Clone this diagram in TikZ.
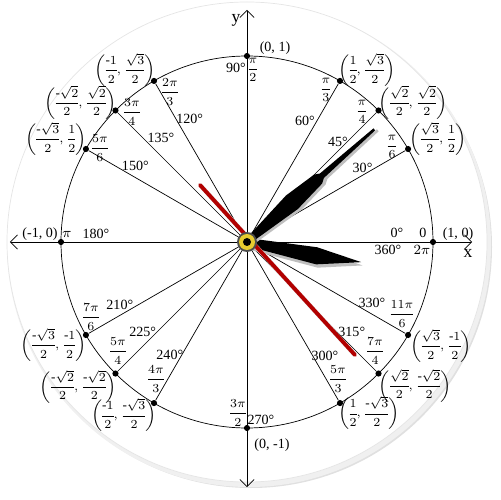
\documentclass[tikz,border=0pt]{standalone}
\usepackage{amsmath}
\usepackage{fontspec}
\setmainfont{Liberation Serif}
\usetikzlibrary{arrows.meta}
\begin{document}
\begin{tikzpicture}[x=0.02cm,y=0.02cm,
  lbl/.style={font=\fontsize{8}{9}\selectfont,inner sep=0pt},
  rad/.style={font=\fontsize{7.5}{8}\selectfont,inner sep=0pt},
  crd/.style={font=\fontsize{7.5}{8}\selectfont,inner sep=0pt},
  dot/.style={circle,fill=black,inner sep=0pt,minimum size=3.5pt},
  ray/.style={line width=0.4pt},
  hand/.style={fill=black}]
\useasboundingbox (-247,-258) rectangle (253,242);
\nulldelimiterspace=0pt
% clock face with shadow
\fill[black!12] (4,-5) circle (241);
\fill[black!6] (2,-3) circle (242);
\fill[white] (0,0) circle (240);
\draw[black!10] (0,0) circle (240);
% axes
\coordinate (O) at (0,0);
\coordinate (xl) at (-237,0); \coordinate (xr) at (225,0);
\coordinate (yt) at (0,232); \coordinate (yb) at (0,-245);
\draw[-{Straight Barb[length=4pt]}] (O) -- (xr);
\draw[-{Straight Barb[length=4pt]}] (O) -- (xl);
\draw[-{Straight Barb[length=4pt]}] (O) -- (yt);
\draw[-{Straight Barb[length=4pt]}] (O) -- (yb);
\node[lbl,font=\fontsize{10}{11}\selectfont] (xlab) at (221,-11) {x};
\node[lbl,font=\fontsize{10}{11}\selectfont] (ylab) at (-11,222) {y};
% unit circle
\draw (O) circle (186);
% points and rays
\foreach \a/\n in {0/p0,30/p30,45/p45,60/p60,90/p90,120/p120,135/p135,150/p150,180/p180,210/p210,225/p225,240/p240,270/p270,300/p300,315/p315,330/p330}{
  \node[dot] (\n) at (\a:186) {};
}
\foreach \n in {p30,p45,p60,p120,p135,p150,p210,p225,p240,p300,p315,p330}{
  \draw[ray] (O) -- (\n);
}
% degree labels
\node[lbl] at (32.5:137) {30°};
\node[lbl] at (47.7:135) {45°};
\node[lbl] at (64.4:134) {60°};
\node[lbl] at (114.9:136) {120°};
\node[lbl] at (129.6:135) {135°};
\node[lbl] at (145.8:135) {150°};
\node[lbl] at (206.4:142) {210°};
\node[lbl] at (220.9:138) {225°};
\node[lbl] at (235.7:137) {240°};
\node[lbl] at (304.4:138) {300°};
\node[lbl] at (319.4:138) {315°};
\node[lbl] at (334:139) {330°};
\node[lbl] at (-11,174) {90°};
\node[lbl] at (14,-178) {270°};
\node[lbl] at (150,9) {0°};
\node[lbl] at (141,-8) {360°};
\node[lbl] at (-151,8) {180°};
\node[lbl] at (176,9) {0};
\node[lbl] at (175,-8) {$2\pi$};
\node[lbl] at (-180,8) {$\pi$};
% radian labels
\node[rad] at (6,172) {$\dfrac{\pi}{2}$};
\node[rad] at (-9,-171) {$\dfrac{3\pi}{2}$};
\node[rad] at (145,95) {$\dfrac{\pi}{6}$};
\node[rad] at (115,130) {$\dfrac{\pi}{4}$};
\node[rad] at (79,152) {$\dfrac{\pi}{3}$};
\node[rad] at (-77,150) {$\dfrac{2\pi}{3}$};
\node[rad] at (-115,130) {$\dfrac{3\pi}{4}$};
\node[rad] at (-147,94) {$\dfrac{5\pi}{6}$};
\node[rad] at (-156,-75) {$\dfrac{7\pi}{6}$};
\node[rad] at (-129,-109) {$\dfrac{5\pi}{4}$};
\node[rad] at (-91,-137) {$\dfrac{4\pi}{3}$};
\node[rad] at (91,-137) {$\dfrac{5\pi}{3}$};
\node[rad] at (128,-109) {$\dfrac{7\pi}{4}$};
\node[rad] at (155,-72) {$\dfrac{11\pi}{6}$};
% coordinate labels
\newcommand{\mn}{\text{-}}
\newcommand{\crdl}[2]{$\left(\dfrac{#1}{2},\,\dfrac{#2}{2}\right)$}
\node[lbl] at (28,194) {(0, 1)};
\node[lbl] at (25,-203) {(0, -1)};
\node[lbl] at (211,8) {(1, 0)};
\node[lbl] at (-207,8) {(-1, 0)};
\node[crd,anchor=west] at ([shift={(-2,11)}]p60) {\crdl{1}{\sqrt3}};
\node[crd,anchor=west] at ([shift={(0,8)}]p45) {\crdl{\sqrt2}{\sqrt2}};
\node[crd,anchor=west] at ([shift={(1,10)}]p30) {\crdl{\sqrt3}{1}};
\node[crd,anchor=east] at ([shift={(2,11)}]p120) {\crdl{\mn1}{\sqrt3}};
\node[crd,anchor=east] at ([shift={(2,8)}]p135) {\crdl{\mn\sqrt2}{\sqrt2}};
\node[crd,anchor=east] at ([shift={(1,10)}]p150) {\crdl{\mn\sqrt3}{1}};
\node[crd,anchor=east] at ([shift={(1,-10)}]p210) {\crdl{\mn\sqrt3}{\mn1}};
\node[crd,anchor=east] at ([shift={(2,-13)}]p225) {\crdl{\mn\sqrt2}{\mn\sqrt2}};
\node[crd,anchor=east] at ([shift={(3,-12)}]p240) {\crdl{\mn1}{\mn\sqrt3}};
\node[crd,anchor=west] at ([shift={(2,-11)}]p330) {\crdl{\sqrt3}{\mn1}};
\node[crd,anchor=west] at ([shift={(0,-12)}]p315) {\crdl{\sqrt2}{\mn\sqrt2}};
\node[crd,anchor=west] at ([shift={(-2,-10)}]p300) {\crdl{1}{\mn\sqrt3}};
% hands
\begin{scope}[rotate=-10]
\fill[black!25,shift={(2,-3)}] (0,4) -- (70,7) -- (116,0) -- (72,-10) -- (0,-4) -- cycle;
\fill[hand] (0,4) -- (70,7) -- (116,0) -- (72,-10) -- (0,-4) -- cycle;
\end{scope}
\begin{scope}[rotate=41.5]
\fill[black!25,shift={(2,-3)}] (0,3) -- (60,9) -- (95,6) -- (100,3) -- (170,1.3) -- (170,-1.3) -- (100,-3) -- (95,-6) -- (60,-9) -- (0,-3) -- cycle;
\fill[hand] (0,3) -- (60,9) -- (95,6) -- (100,3) -- (170,1.3) -- (170,-1.3) -- (100,-3) -- (95,-6) -- (60,-9) -- (0,-3) -- cycle;
\end{scope}
\coordinate (s1) at (-47,57); \coordinate (s2) at (108,-113);
\draw[black!15,line width=2.5pt,shift={(3,-3)}] (s1) -- (s2);
\draw[red!70!black,line width=2.2pt,line cap=round] (s1) -- (s2);
% hub
\fill[black!70] (0,0) circle (10);
\fill[yellow!60!brown] (0,0) circle (8);
\fill[black] (0,0) circle (4);
\end{tikzpicture}
\end{document}
